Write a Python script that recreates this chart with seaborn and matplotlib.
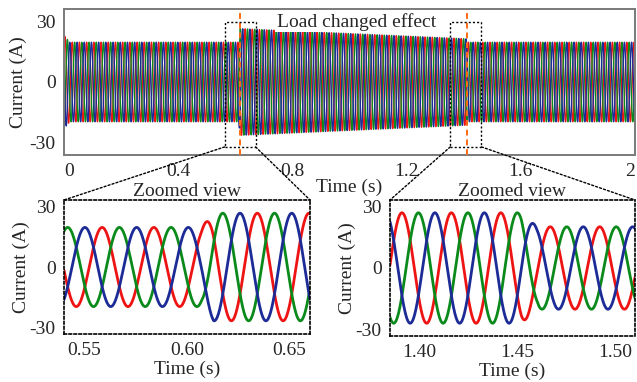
import numpy as np
import pandas as pd
import matplotlib
matplotlib.use("Agg")
import matplotlib.pyplot as plt
import seaborn as sns
from matplotlib.patches import Rectangle, ConnectionPatch

# ---------------- data ----------------
phases = ["Phase a", "Phase b", "Phase c"]
phase_colors = ["#ee1414", "#0b8a1c", "#1c2b96"]          # red, green, blue
phase_shift_deg = [0.0, -120.0, 120.0]                     # red, green, blue
freq_hz = 39.64                                            # read from peak spacing
red_peak_time = 0.5586                                     # time of a red peak (s)

# amplitude envelope seen in the overview panel (A)
overview_env_t = [0.0, 0.02, 0.612, 0.616, 1.410, 1.416, 2.0]
overview_env_a = [23.0, 19.6, 19.6, 26.3, 21.3, 19.6, 19.6]

# amplitude envelope seen in the first zoomed view
zoom1_env_t = [0.54, 0.607, 0.613, 0.66]
zoom1_env_a = [19.5, 19.5, 26.5, 26.5]

# amplitude envelope seen in the second zoomed view
zoom2_env_t = [1.385, 1.452, 1.460, 1.51]
zoom2_env_a = [26.8, 26.8, 20.0, 20.0]

load_change_marks = [0.615, 1.413]                         # orange dashed lines
zoom_boxes = [(0.563, 0.671), (1.353, 1.462)]              # dotted boxes (s)
zoom_box_current = (-32.0, 29.6)

overview_xticks = [0, 0.4, 0.8, 1.2, 1.6, 2]
overview_xticklabels = ["0", "0.4", "0.8", "1.2", "1.6", "2"]
current_ticks = [-30, 0, 30]
current_ticklabels = ["-30", "0", "30"]
zoom1_xticks = [0.55, 0.60, 0.65]
zoom1_xticklabels = ["0.55", "0.60", "0.65"]
zoom2_xticks = [1.40, 1.45, 1.50]
zoom2_xticklabels = ["1.40", "1.45", "1.50"]


def three_phase_frame(t_start, t_end, n, env_t, env_a):
    t = np.linspace(t_start, t_end, n)
    amp = np.interp(t, env_t, env_a)
    frames = []
    for name, shift in zip(phases, phase_shift_deg):
        ang = 2 * np.pi * freq_hz * (t - red_peak_time) + np.deg2rad(shift)
        frames.append(pd.DataFrame({"time": t, "current": amp * np.cos(ang), "phase": name}))
    return pd.concat(frames, ignore_index=True)


df_over = three_phase_frame(0.0, 2.0, 24000, overview_env_t, overview_env_a)
df_z1 = three_phase_frame(0.54, 0.66, 2000, zoom1_env_t, zoom1_env_a)
df_z2 = three_phase_frame(1.385, 1.51, 2000, zoom2_env_t, zoom2_env_a)

# ---------------- styling ----------------
sns.set_theme(style="white")
plt.rcParams["font.family"] = ["Liberation Serif", "DejaVu Serif"]
plt.rcParams["font.size"] = 14
palette = dict(zip(phases, phase_colors))

fig = plt.figure(figsize=(6.37, 3.82), dpi=100)
ax_top = fig.add_axes([64 / 637, 1 - 155 / 382, 571 / 637, 146 / 382])
ax_z1 = fig.add_axes([64 / 637, 1 - 334 / 382, 246 / 637, 134 / 382])
ax_z2 = fig.add_axes([390 / 637, 1 - 336 / 382, 245 / 637, 136 / 382])

# overview
sns.lineplot(data=df_over, x="time", y="current", hue="phase", palette=palette,
             estimator=None, errorbar=None, sort=False, legend=False, lw=1.0, ax=ax_top)
ax_top.set_xlim(0, 2)
ax_top.set_ylim(-36, 36)
ax_top.set_xticks(overview_xticks)
ax_top.set_xticklabels(overview_xticklabels)
ax_top.set_yticks(current_ticks)
ax_top.set_yticklabels(current_ticklabels)
ax_top.set_xlabel("Time (s)", fontsize=14, labelpad=-1)
ax_top.set_ylabel("Current (A)", fontsize=14, labelpad=2)
ax_top.tick_params(length=0, labelsize=14, pad=6)
xlabels_top = ax_top.get_xticklabels()
xlabels_top[0].set_horizontalalignment("left")
xlabels_top[-1].set_horizontalalignment("right")
for s in ax_top.spines.values():
    s.set_color("#7a7a7a")
    s.set_linewidth(1.4)

for xm in load_change_marks:
    ax_top.axvline(xm, color="#ff6a13", ls=(0, (3, 2)), lw=1.4, zorder=5)

dot = (0, (1.5, 1.5))
for (x0, x1) in zoom_boxes:
    ax_top.add_patch(Rectangle((x0, zoom_box_current[0]), x1 - x0,
                               zoom_box_current[1] - zoom_box_current[0],
                               fill=False, ec="black", lw=1.0, ls=dot, zorder=6))

ax_top.text(1.024, 29.6, "Load changed effect", ha="center", va="center", fontsize=14,
            bbox=dict(facecolor="white", edgecolor="none", pad=1.0), zorder=7)

# zoomed views
for ax, df, xt, xtl, xl in [(ax_z1, df_z1, zoom1_xticks, zoom1_xticklabels, (0.54, 0.66)),
                            (ax_z2, df_z2, zoom2_xticks, zoom2_xticklabels, (1.385, 1.51))]:
    sns.lineplot(data=df, x="time", y="current", hue="phase", palette=palette,
                 estimator=None, errorbar=None, sort=False, legend=False, lw=2.0, ax=ax)
    ax.set_xlim(*xl)
    ax.set_ylim(-33, 33)
    ax.set_xticks(xt)
    ax.set_xticklabels(xtl)
    ax.set_yticks(current_ticks)
    ax.set_yticklabels(current_ticklabels)
    ax.tick_params(length=0, labelsize=14, pad=6)
    ax.set_xlabel("Time (s)", fontsize=14, labelpad=1)
    ax.set_ylabel("Current (A)", fontsize=14, labelpad=0)
    ax.set_title("Zoomed view", fontsize=14, pad=3)
    for s in ax.spines.values():
        s.set_color("black")
        s.set_linewidth(1.2)
        s.set_linestyle(dot)

# connecting dotted lines
for (x0, x1), axz in zip(zoom_boxes, [ax_z1, ax_z2]):
    for xb, corner in [(x0, (0, 1)), (x1, (1, 1))]:
        con = ConnectionPatch(xyA=(xb, zoom_box_current[0]), coordsA=ax_top.transData,
                              xyB=corner, coordsB=axz.transAxes,
                              color="black", lw=1.0, ls=dot)
        fig.add_artist(con)

fig.savefig("out.png", dpi=100)
